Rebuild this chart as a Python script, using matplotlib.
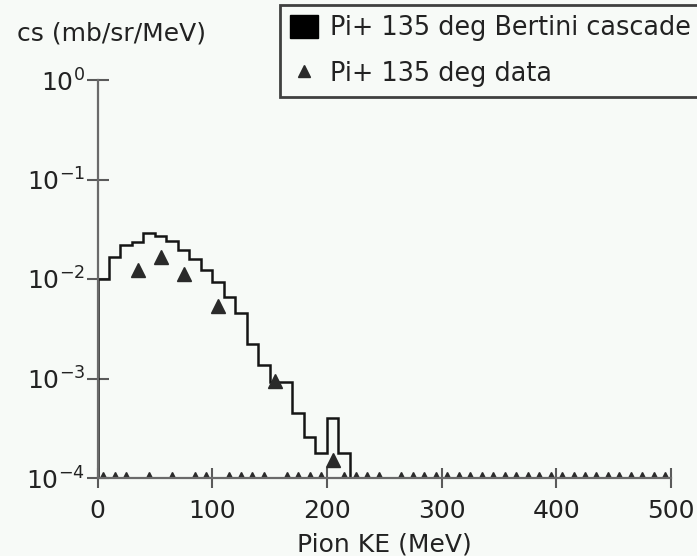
import numpy as np
import matplotlib
matplotlib.use("Agg")
import matplotlib.pyplot as plt
from matplotlib.patches import Patch
from matplotlib.lines import Line2D

# ---- data -------------------------------------------------------------
# Bertini cascade histogram (10 MeV bins, 0-220 MeV non-zero)
sim_edges = [0, 10, 20, 30, 40, 50, 60, 70, 80, 90, 100, 110,
             120, 130, 140, 150, 160, 170, 180, 190, 200, 210, 220]
sim_values = [1.0e-2, 1.65e-2, 2.2e-2, 2.35e-2, 2.9e-2, 2.7e-2, 2.4e-2,
              1.95e-2, 1.6e-2, 1.22e-2, 9.3e-3, 6.6e-3, 4.6e-3, 2.2e-3,
              1.37e-3, 9.3e-4, 9.3e-4, 4.5e-4, 2.6e-4, 1.8e-4, 4.0e-4, 1.8e-4]

# measured data (bin centres); 0 = empty bin, nan = below plotted range
data_energy = [5, 15, 25, 35, 45, 55, 65, 75, 85, 95,
               105, 115, 125, 135, 145, 155, 165, 175, 185, 195,
               205, 215, 225, 235, 245, 255, 265, 275, 285, 295,
               305, 315, 325, 335, 345, 355, 365, 375, 385, 395,
               405, 415, 425, 435, 445, 455, 465, 475, 485, 495]
data_values = [0, 0, 0, 1.23e-2, 0, 1.66e-2, 0, 1.12e-2, 0, 0,
               5.4e-3, 0, 0, 0, 0, 9.4e-4, 0, 0, 0, 0,
               1.5e-4, 0, 0, 0, 0, np.nan, 0, 0, 0, 0,
               0, 0, 0, 0, 0, 0, 0, 0, 0, 0,
               0, 0, 0, 0, 0, 0, 0, 0, 0, 0]

x_ticks = [0, 100, 200, 300, 400, 500]
y_ticks = [1e-4, 1e-3, 1e-2, 1e-1, 1e0]
y_ticklabels = [r"$10^{-4}$", r"$10^{-3}$", r"$10^{-2}$", r"$10^{-1}$", r"$10^{0}$"]

sim_label = "Pi+ 135 deg Bertini cascade"
data_label = "Pi+ 135 deg data"
x_label = "Pion KE (MeV)"
y_label = "cs (mb/sr/MeV)"

# ---- figure -----------------------------------------------------------
bg = "#f7faf7"
W, H = 697, 556
fig = plt.figure(figsize=(W / 100, H / 100), dpi=100, facecolor=bg)
plt.rcParams["font.family"] = ["DejaVu Sans"]
plt.rcParams["mathtext.fontset"] = "dejavusans"
FS = 18

ax = fig.add_axes([97.5 / W, 1 - 478 / H, (671 - 97.5) / W, (478 - 80) / H])
ax.set_facecolor(bg)
ax.set_yscale("log")
ax.set_xlim(0, 500)
ax.set_ylim(1e-4, 1e0)

for s in ("top", "right"):
    ax.spines[s].set_visible(False)
for s in ("left", "bottom"):
    ax.spines[s].set_color("#6a6a6a")
    ax.spines[s].set_linewidth(1.6)
    ax.spines[s].set_zorder(5)

ax.set_xticks(x_ticks)
ax.set_xticklabels([str(v) for v in x_ticks], fontsize=FS, color="#222222")
ax.set_yticks(y_ticks)
ax.set_yticklabels(y_ticklabels, fontsize=FS, color="#222222")
ax.minorticks_off()
ax.yaxis.set_minor_locator(matplotlib.ticker.NullLocator())
ax.tick_params(axis="y", direction="inout", length=16, width=1.5,
               color="#5a5a5a", pad=1)
ax.tick_params(axis="x", direction="inout", length=14, width=1.5,
               color="#5a5a5a", pad=8)

# histogram
ymin = ax.get_ylim()[0]
ax.stairs(sim_values, sim_edges, baseline=ymin, color="#151515",
          linewidth=1.8, zorder=3)

# data points
E = np.array(data_energy, dtype=float)
V = np.array(data_values, dtype=float)
pos = V > 0
zero = V == 0
ax.plot(E[pos], V[pos], linestyle="none", marker="^", markersize=10.5,
        color="#2a2a2a", zorder=4)
ax.plot(E[zero], np.full(zero.sum(), ymin), linestyle="none", marker="^",
        markersize=8, color="#2a2a2a", zorder=4, clip_on=True)

ax.set_xlabel(x_label, fontsize=FS, color="#222222", labelpad=7)
fig.text(17 / W, 1 - 33 / H, y_label, fontsize=FS, color="#222222",
         ha="left", va="center")

handles = [Patch(facecolor="black", edgecolor="black"),
           Line2D([], [], linestyle="none", marker="^", markersize=8,
                  color="#2a2a2a")]
leg = fig.legend(handles, [sim_label, data_label], loc="upper left",
                 bbox_to_anchor=(280 / W, 1 - 5 / H), fontsize=18.4,
                 frameon=True, fancybox=False, framealpha=1,
                 handlelength=1.1, handleheight=0.98, handletextpad=0.45,
                 labelspacing=0.78, borderpad=0.4, borderaxespad=0)
leg.get_frame().set_edgecolor("#404040")
leg.get_frame().set_linewidth(2)
leg.get_frame().set_facecolor(bg)
for t in leg.get_texts():
    t.set_color("#222222")

fig.savefig("out.png", dpi=100, facecolor=bg)
